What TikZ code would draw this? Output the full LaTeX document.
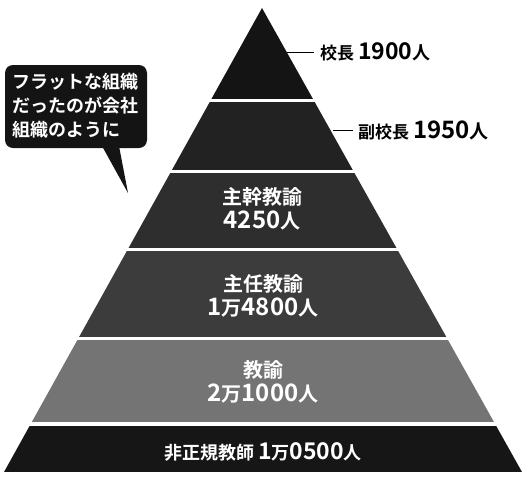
\documentclass[tikz,border=0pt]{standalone}
\usepackage{fontspec}
\setmainfont{Noto Sans CJK JP}[BoldFont={Noto Sans CJK JP Bold}]
\definecolor{bandA}{HTML}{141414}
\definecolor{bandB}{HTML}{222222}
\definecolor{bandC}{HTML}{2E2E2E}
\definecolor{bandD}{HTML}{3C3C3C}
\definecolor{bandE}{HTML}{747474}
\definecolor{bandF}{HTML}{161616}
\newcommand{\kj}{\fontsize{20}{25}\selectfont}
\newcommand{\nm}{\fontsize{24}{25}\selectfont}
\tikzset{
  intext/.style={text=white, font=\bfseries, align=center, inner sep=0pt},
  sidelabel/.style={text=black, font=\bfseries, anchor=west, inner sep=0pt},
  leader/.style={draw=black, line width=1pt},
}
\begin{document}
\begin{tikzpicture}[x=1pt,y=-1pt]
\useasboundingbox (0,0) rectangle (525,482);
% pyramid
\begin{scope}
  \clip (262,8) -- (522,472) -- (4,472) -- cycle;
  \fill[bandA] (0,0) rectangle (525,99);
  \fill[bandB] (0,102) rectangle (525,170);
  \fill[bandC] (0,173) rectangle (525,248);
  \fill[bandD] (0,251) rectangle (525,337);
  \fill[bandE] (0,340) rectangle (525,422);
  \fill[bandF] (0,426) rectangle (525,472);
\end{scope}
% texts inside
\node[intext] (t3) at (262,209) {{\kj 主幹教諭}\\[4pt]{\nm 4250}{\kj 人}};
\node[intext] (t4) at (263,296) {{\kj 主任教諭}\\[4pt]{\nm 1}{\kj 万}{\nm 4800}{\kj 人}};
\node[intext] (t5) at (263,382) {{\kj 教諭}\\[4pt]{\nm 2}{\kj 万}{\nm 1000}{\kj 人}};
\node[intext] (t6) at (263,452) {{\fontsize{18}{20}\selectfont 非正規教師 }{\fontsize{23}{20}\selectfont 1}{\fontsize{18}{20}\selectfont 万}{\fontsize{23}{20}\selectfont 0500}{\fontsize{18}{20}\selectfont 人}};
% side labels
\coordinate (e1) at (287,52);
\node[sidelabel] (l1) at (320,52) {{\fontsize{17}{20}\selectfont 校長 }{\fontsize{23}{20}\selectfont 1900}{\fontsize{18}{20}\selectfont 人}};
\draw[leader, shorten >=6pt] (e1) -- (l1.west);
\coordinate (e2) at (333,130);
\node[sidelabel] (l2) at (358,130) {{\fontsize{17}{20}\selectfont 副校長 }{\fontsize{24}{20}\selectfont 1950}{\fontsize{19}{20}\selectfont 人}};
\draw[leader, shorten >=5pt] (e2) -- (l2.west);
% callout
\fill[bandA, rounded corners=8pt] (5,65) rectangle (147,148);
\coordinate (tip) at (128,193);
\fill[bandA] (102,146) -- (tip) -- (119,146) -- cycle;
\node[text=white, font=\bfseries\fontsize{18}{24}\selectfont, align=left, anchor=north west, inner sep=0pt] (c) at (12,73) {フラットな組織\\だったのが会社\\組織のように};
\end{tikzpicture}
\end{document}
